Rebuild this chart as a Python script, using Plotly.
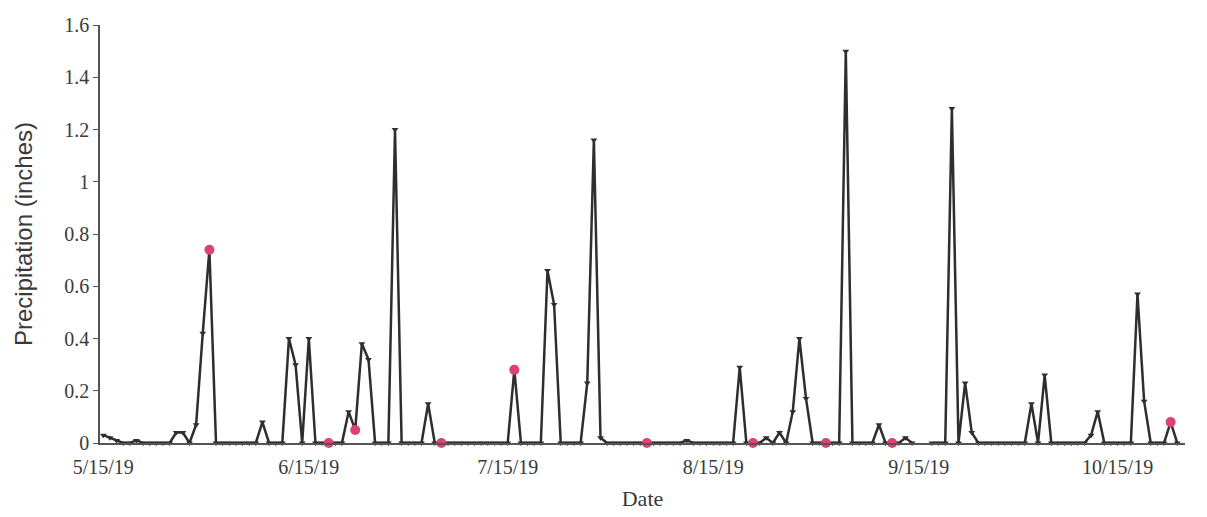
import pandas as pd
import plotly.graph_objects as go

start_date = "2019-05-15"

# daily precipitation (inches), one value per day starting 5/15/19; None = missing
precip = [
    0.03, 0.02, 0.01, 0, 0, 0.01, 0, 0, 0, 0,          # d0-9
    0, 0.04, 0.04, 0, 0.07, 0.42, 0.74, 0, 0, 0,       # d10-19
    0, 0, 0, 0, 0.08, 0, 0, 0, 0.40, 0.30,             # d20-29
    0, 0.40, 0, 0, 0, 0, 0, 0.12, 0.05, 0.38,          # d30-39
    0.32, 0, 0, 0, 1.20, 0, 0, 0, 0, 0.15,             # d40-49
    0, 0, 0, 0, 0, 0, 0, 0, 0, 0,                      # d50-59
    0, 0, 0.28, 0, 0, 0, 0, 0.66, 0.53, 0,             # d60-69
    0, 0, 0, 0.23, 1.16, 0.02, 0, 0, 0, 0,             # d70-79
    0, 0, 0, 0, 0, 0, 0, 0, 0.01, 0,                   # d80-89
    0, 0, 0, 0, 0, 0, 0.29, 0, 0, 0,                   # d90-99
    0.02, 0, 0.04, 0, 0.12, 0.40, 0.17, 0, 0, 0,       # d100-109
    0, 0, 1.50, 0, 0, 0, 0, 0.07, 0, 0,                # d110-119
    0, 0.02, 0, None, None, 0, 0, 0, 1.28, 0,          # d120-129
    0.23, 0.04, 0, 0, 0, 0, 0, 0, 0, 0,                # d130-139
    0.15, 0, 0.26, 0, 0, 0, 0, 0, 0, 0.03,             # d140-149
    0.12, 0, 0, 0, 0, 0, 0.57, 0.16, 0, 0,             # d150-159
    0, 0.08, 0,                                        # d160-162
]

# highlighted days (day offsets from start) and their values
red_days = [16, 34, 38, 51, 62, 82, 98, 109, 119, 161]
red_values = [0.74, 0, 0.05, 0, 0.28, 0, 0, 0, 0, 0.08]

tick_dates = ["2019-05-15", "2019-06-15", "2019-07-15", "2019-08-15", "2019-09-15", "2019-10-15"]
tick_labels = ["5/15/19", "6/15/19", "7/15/19", "8/15/19", "9/15/19", "10/15/19"]

base = pd.Timestamp(start_date)
dates = [base + pd.Timedelta(days=i) for i in range(len(precip))]
red_dates = [base + pd.Timedelta(days=d) for d in red_days]

fig = go.Figure()
fig.add_trace(go.Scatter(
    x=dates, y=precip, mode="lines+markers",
    line=dict(color="#2e2e2e", width=2.5),
    marker=dict(symbol="triangle-down", size=6, color="#2e2e2e"),
    connectgaps=False, cliponaxis=False, showlegend=False,
))
fig.add_trace(go.Scatter(
    x=red_dates, y=red_values, mode="markers",
    marker=dict(symbol="circle", size=10, color="#dc4272"),
    cliponaxis=False, showlegend=False,
))

serif = "Liberation Serif"
fig.update_layout(
    width=1199, height=509,
    margin=dict(l=92, r=22, t=17, b=74),
    plot_bgcolor="white", paper_bgcolor="white",
    font=dict(family=serif, size=20, color="#3a3a3a"),
    xaxis=dict(
        type="date", automargin=False,
        range=["2019-05-14 12:00", "2019-10-25 04:00"],
        tickvals=tick_dates, ticktext=tick_labels,
        tickfont=dict(family=serif, size=20, color="#3a3a3a"),
        ticklabelstandoff=5,
        showline=True, linecolor="#555555", linewidth=1.5,
        ticks="", showgrid=False, zeroline=False,
        title=dict(text="Date", font=dict(family=serif, size=22, color="#3a3a3a"), standoff=14),
    ),
    yaxis=dict(
        range=[0, 1.6], dtick=0.2, automargin=False,
        tickfont=dict(family=serif, size=20, color="#3a3a3a"),
        showline=True, linecolor="#555555", linewidth=1.5,
        ticks="outside", ticklen=5, tickcolor="#555555",
        showgrid=False, zeroline=False,
        title=dict(text="Precipitation (inches)",
                   font=dict(family="Liberation Sans", size=24, color="#3a3a3a"), standoff=25),
    ),
)

fig.write_html("out.html")
